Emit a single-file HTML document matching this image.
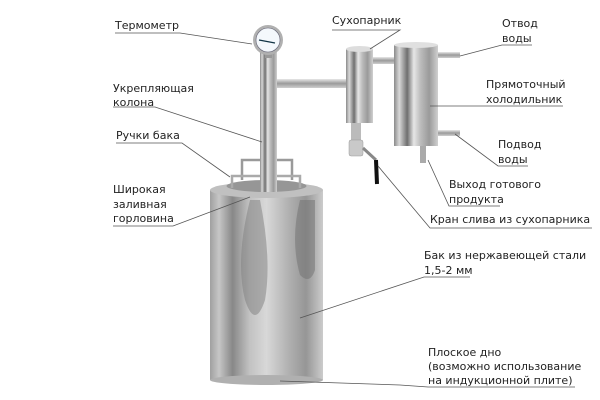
<!DOCTYPE html>
<html><head><meta charset="utf-8"><style>
html,body{margin:0;padding:0;background:#fff;}
svg{display:block;}
text{font-family:"DejaVu Sans","Liberation Sans",sans-serif;font-size:11px;fill:#222;}
</style></head><body>
<svg width="600" height="400" viewBox="0 0 600 400" xmlns="http://www.w3.org/2000/svg">
<defs>
<linearGradient id="steel" x1="0" x2="1" y1="0" y2="0">
<stop offset="0" stop-color="#8a8a8a"/><stop offset="0.12" stop-color="#d8d8d8"/><stop offset="0.3" stop-color="#6f6f6f"/><stop offset="0.45" stop-color="#e6e6e6"/><stop offset="0.6" stop-color="#bdbdbd"/><stop offset="0.8" stop-color="#9a9a9a"/><stop offset="1" stop-color="#d0d0d0"/>
</linearGradient>
<linearGradient id="tank" x1="0" x2="1" y1="0" y2="0">
<stop offset="0" stop-color="#a0a0a0"/><stop offset="0.08" stop-color="#c6c6c6"/><stop offset="0.2" stop-color="#888"/><stop offset="0.35" stop-color="#c2c2c2"/><stop offset="0.5" stop-color="#d8d8d8"/><stop offset="0.7" stop-color="#b0b0b0"/><stop offset="0.85" stop-color="#969696"/><stop offset="1" stop-color="#cccccc"/>
</linearGradient>
<linearGradient id="pipeH" x1="0" x2="0" y1="0" y2="1">
<stop offset="0" stop-color="#e8e8e8"/><stop offset="0.5" stop-color="#9a9a9a"/><stop offset="1" stop-color="#cfcfcf"/>
</linearGradient>
</defs>

<rect x="210" y="190" width="113" height="190" fill="url(#tank)"/>
<ellipse cx="266.5" cy="380" rx="56.5" ry="5" fill="#b0b0b0"/>
<path d="M250 200 Q235 260 245 300 Q255 330 265 300 Q272 260 260 200Z" fill="#7e7e7e" opacity="0.5"/>
<path d="M300 200 Q290 240 300 275 Q310 285 315 270 L315 200Z" fill="#6f6f6f" opacity="0.5"/>
<ellipse cx="266.5" cy="190" rx="56.5" ry="8" fill="#c0c0c0"/>
<ellipse cx="266.5" cy="186" rx="40" ry="6" fill="#969696"/>
<path d="M242 180 L242 160 L292 160 L292 180" fill="none" stroke="#9a9a9a" stroke-width="2.5"/>
<path d="M232 188 L232 176 L300 176 L300 188" fill="none" stroke="#aaa" stroke-width="2.5"/>
<rect x="260" y="52" width="17" height="140" fill="url(#steel)"/>
<rect x="277" y="79" width="70" height="9" fill="url(#pipeH)"/>
<rect x="265" y="52" width="7" height="6" fill="#999"/>
<circle cx="268" cy="40" r="15" fill="#b0b0b0"/>
<circle cx="268" cy="40" r="12" fill="#f4f8fc" stroke="#667" stroke-width="0.6"/>
<line x1="259" y1="40" x2="275" y2="43" stroke="#134" stroke-width="1.2"/>
<rect x="346" y="49" width="27" height="74" fill="url(#steel)"/>
<ellipse cx="359.5" cy="49" rx="13.5" ry="3" fill="#ddd"/>
<rect x="373" y="57" width="22" height="7" fill="url(#pipeH)"/>
<rect x="351" y="123" width="10" height="20" fill="#bbb"/>
<rect x="349" y="140" width="14" height="16" rx="2" fill="#c9c9c9" stroke="#999" stroke-width="0.5"/>
<line x1="363" y1="148" x2="376" y2="160" stroke="#888" stroke-width="3"/>
<line x1="376" y1="160" x2="377" y2="184" stroke="#111" stroke-width="4"/>
<rect x="394" y="45" width="44" height="101" fill="url(#steel)"/>
<ellipse cx="416" cy="45" rx="22" ry="3" fill="#e0e0e0"/>
<rect x="438" y="52" width="22" height="6" fill="url(#pipeH)"/>
<rect x="438" y="130" width="22" height="6" fill="url(#pipeH)"/>
<rect x="420" y="146" width="6" height="17" fill="#aaa"/>

<g stroke="#555" stroke-width="0.8" fill="none">
<path d="M115 33 L180 33 L252 44"/>
<path d="M113 107 L155 107 L262 142"/>
<path d="M116 143 L182 143 L230 177"/>
<path d="M113 226 L173 226 L250 197"/>
<path d="M332 30 L400 30 L370 49"/>
<path d="M532 45 L502 45 L460 56"/>
<path d="M430 106 L563 106"/>
<path d="M528 166 L498 166 L455 134"/>
<path d="M500 206 L449 206 L428 160"/>
<path d="M592 228 L430 228 L378 166"/>
<path d="M470 277 L424 277 L300 318"/>
<path d="M280 381 L400 385 L428 387 L575 387"/>
</g>

<text x="115" y="29">Термометр</text>
<text x="113" y="92">Укрепляющая</text>
<text x="113" y="106">колона</text>
<text x="116" y="139">Ручки бака</text>
<text x="113" y="193">Широкая</text>
<text x="113" y="208">заливная</text>
<text x="113" y="222">горловина</text>
<text x="332" y="24">Сухопарник</text>
<text x="502" y="27">Отвод</text>
<text x="502" y="42">воды</text>
<text x="486" y="88">Прямоточный</text>
<text x="486" y="103">холодильник</text>
<text x="498" y="148">Подвод</text>
<text x="498" y="163">воды</text>
<text x="449" y="188">Выход готового</text>
<text x="449" y="203">продукта</text>
<text x="430" y="223">Кран слива из сухопарника</text>
<text x="424" y="259">Бак из нержавеющей стали</text>
<text x="424" y="274">1,5-2 мм</text>
<text x="428" y="356">Плоское дно</text>
<text x="428" y="370">(возможно использование</text>
<text x="428" y="384">на индукционной плите)</text>
</svg>
</body></html>
